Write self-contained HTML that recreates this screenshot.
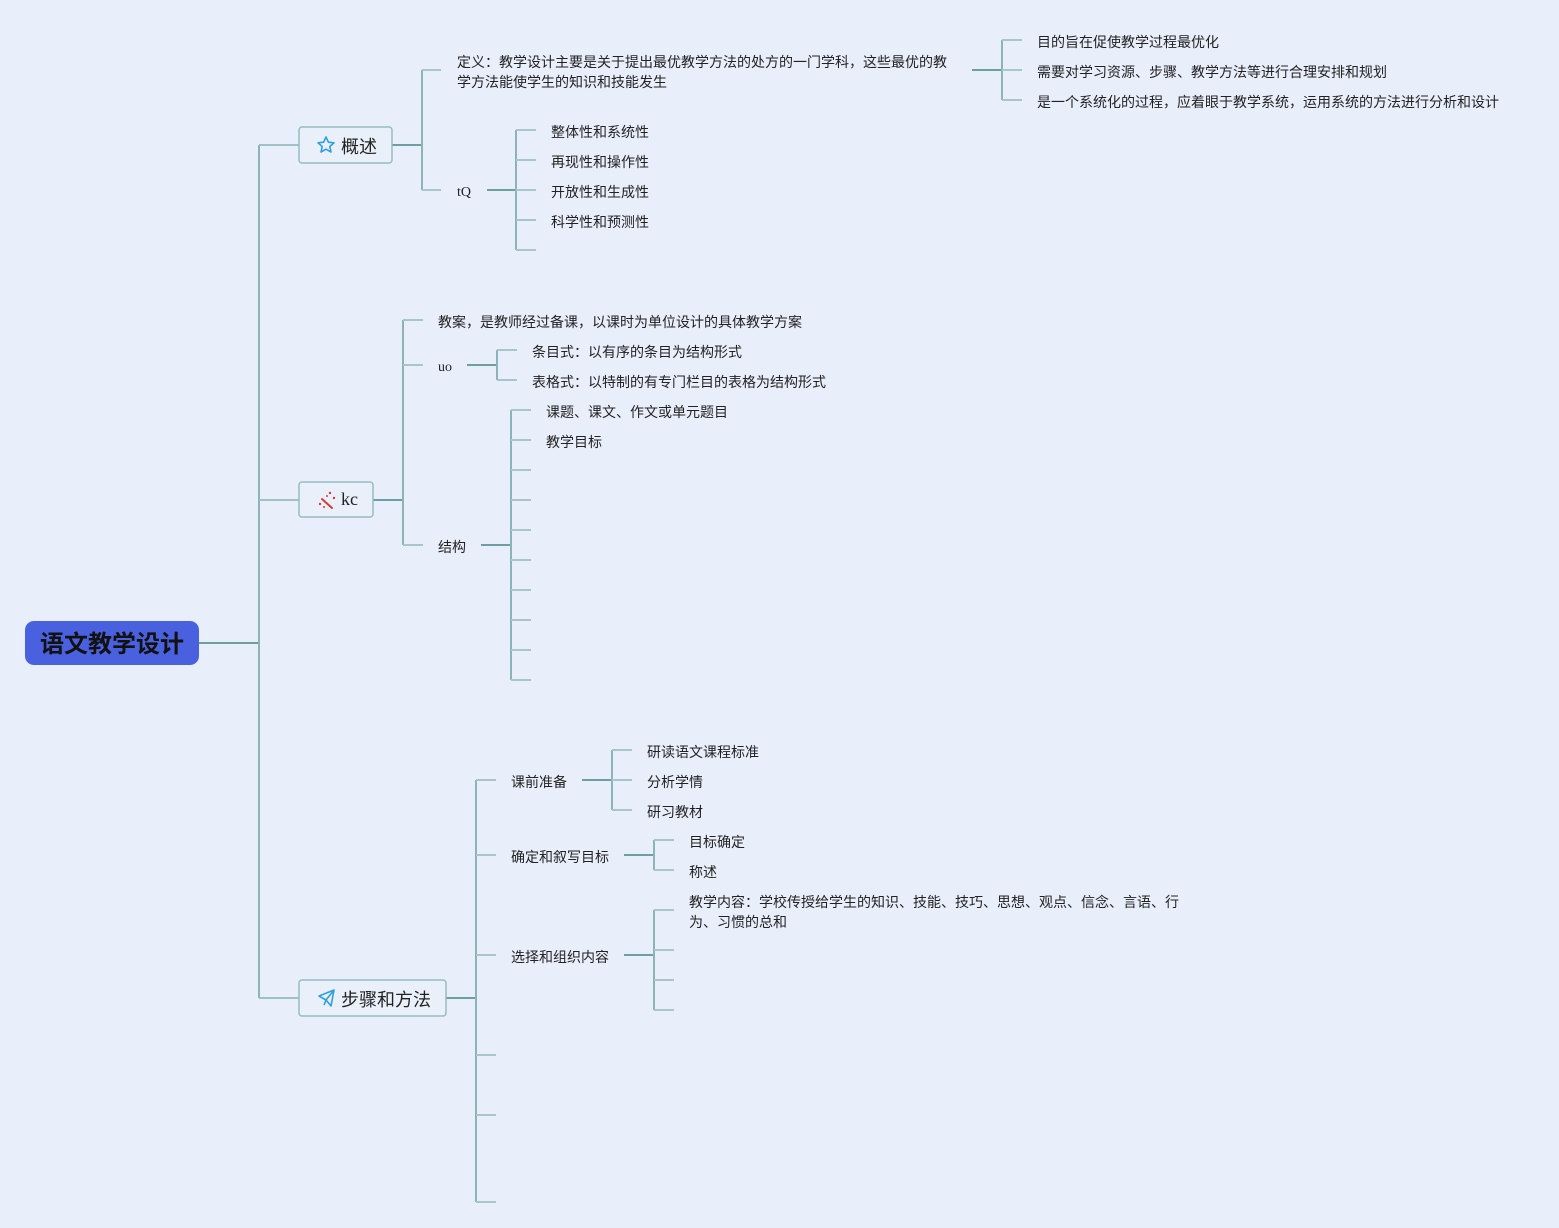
<!DOCTYPE html>
<html>
<head>
<meta charset="utf-8">
<style>
html,body{margin:0;padding:0;background:#e9eefb;}
svg{display:block;}
text{font-family:"Liberation Sans","Noto Sans CJK SC",sans-serif;fill:#222;}
.s{font-size:14px;}
.serif{font-family:"Liberation Serif","Noto Serif CJK SC",serif;}
</style>
</head>
<body>
<svg width="1559" height="1228" viewBox="0 0 1559 1228" xmlns="http://www.w3.org/2000/svg">
<rect x="0" y="0" width="1559" height="1228" fill="#e9eefb"/>

<g fill="none" stroke-width="2">
  <!-- root -->
  <line x1="198" y1="643" x2="259" y2="643" stroke="#6c9fa0"/>
  <line x1="259" y1="145" x2="259" y2="998" stroke="#8cb3b7"/>
  <line x1="259" y1="145" x2="299" y2="145" stroke="#9fc0c5"/>
  <line x1="259" y1="500" x2="299" y2="500" stroke="#9fc0c5"/>
  <line x1="259" y1="998" x2="299" y2="998" stroke="#9fc0c5"/>

  <!-- 概述 -->
  <line x1="392" y1="145" x2="422" y2="145" stroke="#6c9fa0"/>
  <line x1="422" y1="70" x2="422" y2="190" stroke="#8cb3b7"/>
  <line x1="422" y1="70" x2="441" y2="70" stroke="#a7c6cb"/>
  <line x1="422" y1="190" x2="441" y2="190" stroke="#a7c6cb"/>
  <!-- 定义 children -->
  <line x1="972" y1="70" x2="1002" y2="70" stroke="#6c9fa0"/>
  <line x1="1002" y1="40" x2="1002" y2="100" stroke="#8cb3b7"/>
  <line x1="1002" y1="40" x2="1022" y2="40" stroke="#a7c6cb"/>
  <line x1="1002" y1="70" x2="1022" y2="70" stroke="#a7c6cb"/>
  <line x1="1002" y1="100" x2="1022" y2="100" stroke="#a7c6cb"/>
  <!-- tQ children -->
  <line x1="487" y1="190" x2="516" y2="190" stroke="#6c9fa0"/>
  <line x1="516" y1="130" x2="516" y2="250" stroke="#8cb3b7"/>
  <line x1="516" y1="130" x2="536" y2="130" stroke="#a7c6cb"/>
  <line x1="516" y1="160" x2="536" y2="160" stroke="#a7c6cb"/>
  <line x1="516" y1="190" x2="536" y2="190" stroke="#a7c6cb"/>
  <line x1="516" y1="220" x2="536" y2="220" stroke="#a7c6cb"/>
  <line x1="516" y1="250" x2="536" y2="250" stroke="#a7c6cb"/>

  <!-- kc -->
  <line x1="373" y1="500" x2="403" y2="500" stroke="#6c9fa0"/>
  <line x1="403" y1="320" x2="403" y2="545" stroke="#8cb3b7"/>
  <line x1="403" y1="320" x2="423" y2="320" stroke="#a7c6cb"/>
  <line x1="403" y1="365" x2="423" y2="365" stroke="#a7c6cb"/>
  <line x1="403" y1="545" x2="423" y2="545" stroke="#a7c6cb"/>
  <!-- uo -->
  <line x1="467" y1="365" x2="497" y2="365" stroke="#6c9fa0"/>
  <line x1="497" y1="350" x2="497" y2="380" stroke="#8cb3b7"/>
  <line x1="497" y1="350" x2="517" y2="350" stroke="#a7c6cb"/>
  <line x1="497" y1="380" x2="517" y2="380" stroke="#a7c6cb"/>
  <!-- 结构 -->
  <line x1="481" y1="545" x2="511" y2="545" stroke="#6c9fa0"/>
  <line x1="511" y1="410" x2="511" y2="680" stroke="#8cb3b7"/>
  <line x1="511" y1="410" x2="531" y2="410" stroke="#a7c6cb"/>
  <line x1="511" y1="440" x2="531" y2="440" stroke="#a7c6cb"/>
  <line x1="511" y1="470" x2="531" y2="470" stroke="#a7c6cb"/>
  <line x1="511" y1="500" x2="531" y2="500" stroke="#a7c6cb"/>
  <line x1="511" y1="530" x2="531" y2="530" stroke="#a7c6cb"/>
  <line x1="511" y1="560" x2="531" y2="560" stroke="#a7c6cb"/>
  <line x1="511" y1="590" x2="531" y2="590" stroke="#a7c6cb"/>
  <line x1="511" y1="620" x2="531" y2="620" stroke="#a7c6cb"/>
  <line x1="511" y1="650" x2="531" y2="650" stroke="#a7c6cb"/>
  <line x1="511" y1="680" x2="531" y2="680" stroke="#a7c6cb"/>

  <!-- 步骤和方法 -->
  <line x1="446" y1="998" x2="476" y2="998" stroke="#6c9fa0"/>
  <line x1="476" y1="780" x2="476" y2="1202" stroke="#8cb3b7"/>
  <line x1="476" y1="780" x2="496" y2="780" stroke="#a7c6cb"/>
  <line x1="476" y1="855" x2="496" y2="855" stroke="#a7c6cb"/>
  <line x1="476" y1="955" x2="496" y2="955" stroke="#a7c6cb"/>
  <line x1="476" y1="1055" x2="496" y2="1055" stroke="#a7c6cb"/>
  <line x1="476" y1="1115" x2="496" y2="1115" stroke="#a7c6cb"/>
  <line x1="476" y1="1202" x2="496" y2="1202" stroke="#a7c6cb"/>
  <!-- 课前准备 -->
  <line x1="582" y1="780" x2="612" y2="780" stroke="#6c9fa0"/>
  <line x1="612" y1="750" x2="612" y2="810" stroke="#8cb3b7"/>
  <line x1="612" y1="750" x2="632" y2="750" stroke="#a7c6cb"/>
  <line x1="612" y1="780" x2="632" y2="780" stroke="#a7c6cb"/>
  <line x1="612" y1="810" x2="632" y2="810" stroke="#a7c6cb"/>
  <!-- 确定和叙写目标 -->
  <line x1="624" y1="855" x2="654" y2="855" stroke="#6c9fa0"/>
  <line x1="654" y1="840" x2="654" y2="870" stroke="#8cb3b7"/>
  <line x1="654" y1="840" x2="674" y2="840" stroke="#a7c6cb"/>
  <line x1="654" y1="870" x2="674" y2="870" stroke="#a7c6cb"/>
  <!-- 选择和组织内容 -->
  <line x1="624" y1="955" x2="654" y2="955" stroke="#6c9fa0"/>
  <line x1="654" y1="910" x2="654" y2="1010" stroke="#8cb3b7"/>
  <line x1="654" y1="910" x2="674" y2="910" stroke="#a7c6cb"/>
  <line x1="654" y1="950" x2="674" y2="950" stroke="#a7c6cb"/>
  <line x1="654" y1="980" x2="674" y2="980" stroke="#a7c6cb"/>
  <line x1="654" y1="1010" x2="674" y2="1010" stroke="#a7c6cb"/>
</g>

<!-- root node -->
<rect x="25" y="621" width="174" height="44" rx="9" fill="#4a61df"/>
<text x="112" y="652" text-anchor="middle" style="font-size:24px;font-weight:bold;fill:#111;">语文教学设计</text>

<!-- 概述 box -->
<rect x="299" y="127" width="93" height="36" rx="3" fill="#eaf0fa" stroke="#95bcc2" stroke-width="1.5"/>
<path d="M326 137 L328.4 142.2 L334 142.8 L329.8 146.5 L331 152 L326 149.2 L321 152 L322.2 146.5 L318 142.8 L323.6 142.2 Z" fill="none" stroke="#2f9fe0" stroke-width="1.6" stroke-linejoin="round"/>
<text x="341" y="153" style="font-size:18px;">概述</text>

<!-- kc box -->
<rect x="299" y="482" width="74" height="35" rx="3" fill="#eaf0fa" stroke="#95bcc2" stroke-width="1.5"/>
<g stroke="#d63a3a" stroke-width="2" stroke-linecap="round">
  <line x1="322" y1="499" x2="332" y2="508"/>
</g>
<g fill="#d63a3a">
  <circle cx="330" cy="493" r="1.2"/>
  <circle cx="334" cy="498" r="1.2"/>
  <circle cx="327" cy="496" r="1"/>
  <circle cx="320" cy="504" r="1.2"/>
  <circle cx="324" cy="507" r="1"/>
</g>
<text x="341" y="505" class="serif" style="font-size:18px;">kc</text>

<!-- 步骤和方法 box -->
<rect x="299" y="980" width="147" height="36" rx="3" fill="#eaf0fa" stroke="#95bcc2" stroke-width="1.5"/>
<path d="M319 996 L334 990 L331 1006 L326 1000 Z M326 1000 L334 990 M326 1000 L324 1005" fill="none" stroke="#2f9fe0" stroke-width="1.6" stroke-linejoin="round"/>
<text x="341" y="1006" style="font-size:18px;">步骤和方法</text>

<!-- 概述 children -->
<text x="457" y="67" class="s">定义：教学设计主要是关于提出最优教学方法的处方的一门学科，这些最优的教</text>
<text x="457" y="87" class="s">学方法能使学生的知识和技能发生</text>
<text x="1037" y="47" class="s">目的旨在促使教学过程最优化</text>
<text x="1037" y="77" class="s">需要对学习资源、步骤、教学方法等进行合理安排和规划</text>
<text x="1037" y="107" class="s">是一个系统化的过程，应着眼于教学系统，运用系统的方法进行分析和设计</text>
<text x="457" y="196" class="s serif">tQ</text>
<text x="551" y="137" class="s">整体性和系统性</text>
<text x="551" y="167" class="s">再现性和操作性</text>
<text x="551" y="197" class="s">开放性和生成性</text>
<text x="551" y="227" class="s">科学性和预测性</text>

<!-- kc children -->
<text x="438" y="327" class="s">教案，是教师经过备课，以课时为单位设计的具体教学方案</text>
<text x="438" y="371" class="s serif">uo</text>
<text x="532" y="357" class="s">条目式：以有序的条目为结构形式</text>
<text x="532" y="387" class="s">表格式：以特制的有专门栏目的表格为结构形式</text>
<text x="438" y="552" class="s">结构</text>
<text x="546" y="417" class="s">课题、课文、作文或单元题目</text>
<text x="546" y="447" class="s">教学目标</text>

<!-- 步骤和方法 children -->
<text x="511" y="787" class="s">课前准备</text>
<text x="647" y="757" class="s">研读语文课程标准</text>
<text x="647" y="787" class="s">分析学情</text>
<text x="647" y="817" class="s">研习教材</text>
<text x="511" y="862" class="s">确定和叙写目标</text>
<text x="689" y="847" class="s">目标确定</text>
<text x="689" y="877" class="s">称述</text>
<text x="511" y="962" class="s">选择和组织内容</text>
<text x="689" y="907" class="s">教学内容：学校传授给学生的知识、技能、技巧、思想、观点、信念、言语、行</text>
<text x="689" y="927" class="s">为、习惯的总和</text>
</svg>
</body>
</html>
